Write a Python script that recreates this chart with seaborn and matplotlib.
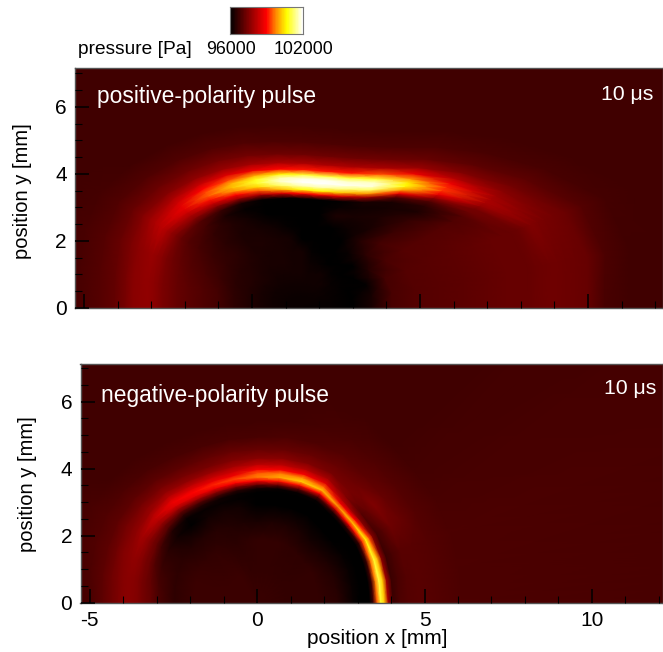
import numpy as np
import matplotlib
matplotlib.use('Agg')
import matplotlib.pyplot as plt
from matplotlib.colors import LinearSegmentedColormap
from matplotlib.ticker import MultipleLocator
import seaborn as sns

# pressure, in kPa, on a grid that follows the pulse front
# columns go from the left of the front (180 deg) to the right of it (0 deg)
angles = [180, 170, 160, 150, 140, 130, 120, 110, 100, 90, 80, 70, 60, 50, 40, 30, 20, 10, 0]

center_top = [1.5, 0.0]
front_top = [4.6, 4.65, 4.75, 4.8, 4.6, 4.37, 4.16, 3.97, 3.83, 3.76, 3.77, 3.9, 4.2, 4.75, 5.45, 6.3, 7.25, 7.5, 7.37]
levels_top = [0, .12, .2, .28, .36, .45, .55, .65, .75, .82, .87, .91, .94, .97, 1, 1.03, 1.06, 1.1, 1.15, 1.22, 1.32, 1.45, 1.65, 7]
pressure_top = [
    [96.1] * 19,
    [96.15, 96.15, 96.15, 96.15, 96.15, 96.15, 96.15, 96.15, 96.15, 96.15, 96.15, 96.15, 96.15, 96.15, 96.15, 96.12, 96.1, 96.08, 96.08],
    [96.2, 96.2, 96.2, 96.2, 96.2, 96.2, 96.2, 96.2, 96.2, 96.2, 96.2, 96.2, 96.2, 96.2, 96.1, 96.05, 96.0, 96.0, 96.0],
    [96.3, 96.3, 96.3, 96.3, 96.3, 96.25, 96.25, 96.25, 96.25, 96.25, 96.2, 96.2, 96.2, 96.05, 96.0, 96.0, 96.05, 96.3, 96.3],
    [96.4, 96.4, 96.4, 96.4, 96.35, 96.3, 96.3, 96.3, 96.25, 96.25, 96.15, 96.1, 96.0, 96.0, 96.0, 96.4, 96.8, 96.85, 96.85],
    [96.55, 96.55, 96.5, 96.45, 96.4, 96.35, 96.3, 96.3, 96.25, 96.25, 96.05, 96.0, 96.0, 96.1, 96.5, 96.85, 97.0, 97.0, 97.0],
    [96.8, 96.8, 96.7, 96.6, 96.5, 96.35, 96.35, 96.3, 96.25, 96.0, 96.0, 96.0, 96.0, 96.4, 96.8, 97.0, 97.05, 97.05, 97.05],
    [96.95, 96.95, 96.85, 96.7, 96.5, 96.35, 96.3, 96.2, 96.05, 96.0, 96.0, 96.0, 96.15, 96.3, 96.7, 97.0, 97.1, 97.1, 97.1],
    [97.1, 97.1, 97.0, 96.85, 96.6, 96.4, 96.2, 96.0, 96.0, 96.0, 96.0, 96.35, 96.3, 96.35, 96.6, 97.0, 97.15, 97.15, 97.15],
    [97.2, 97.2, 97.15, 97.0, 96.8, 96.35, 96.05, 96.0, 96.0, 96.0, 96.0, 96.1, 96.2, 96.25, 96.35, 96.95, 97.2, 97.2, 97.2],
    [97.35, 97.35, 97.3, 97.2, 97.0, 96.7, 96.3, 96.05, 96.0, 96.0, 96.0, 96.05, 96.3, 96.3, 96.5, 97.0, 97.2, 97.2, 97.2],
    [97.45, 97.45, 97.45, 97.5, 97.6, 97.6, 97.9, 98.1, 98.6, 99.0, 98.9, 98.5, 97.9, 97.0, 97.0, 97.3, 97.2, 97.2, 97.2],
    [97.55, 97.55, 97.6, 97.75, 98.0, 98.4, 99.0, 99.5, 100.2, 100.7, 100.6, 100.2, 99.9, 98.8, 97.8, 97.4, 97.25, 97.25, 97.25],
    [97.65, 97.65, 97.7, 98.0, 98.4, 99.1, 99.8, 100.4, 101.2, 101.6, 101.6, 101.3, 101.2, 100.0, 98.8, 97.8, 97.4, 97.28, 97.28],
    [97.7, 97.7, 97.8, 98.2, 98.7, 99.5, 100.2, 100.9, 101.7, 102.0, 102.0, 101.9, 101.8, 100.7, 99.3, 98.0, 97.5, 97.3, 97.3],
    [97.68, 97.7, 97.75, 98.15, 98.65, 99.4, 100.1, 100.8, 101.6, 101.8, 101.9, 101.7, 101.7, 100.5, 99.2, 97.95, 97.45, 97.3, 97.3],
    [97.65, 97.65, 97.7, 98.0, 98.4, 99.0, 99.4, 100.0, 100.6, 100.9, 101.0, 100.9, 100.9, 99.8, 98.8, 97.85, 97.4, 97.28, 97.28],
    [97.6, 97.6, 97.6, 97.8, 98.0, 98.3, 98.6, 98.8, 99.0, 99.1, 99.1, 99.1, 99.4, 98.8, 98.1, 97.6, 97.35, 97.25, 97.25],
    [97.4, 97.4, 97.45, 97.5, 97.55, 97.7, 97.8, 97.9, 98.0, 98.0, 98.0, 98.0, 98.0, 97.8, 97.5, 97.35, 97.25, 97.2, 97.2],
    [97.15, 97.15, 97.2, 97.2, 97.25, 97.3, 97.35, 97.35, 97.3, 97.3, 97.3, 97.3, 97.3, 97.2, 97.1, 97.1, 97.0, 96.9, 96.85],
    [97.0, 97.0, 97.0, 96.95, 96.95, 96.95, 96.95, 96.95, 96.9, 96.9, 96.9, 96.9, 96.9, 96.9, 96.85, 96.85, 96.8, 96.75, 96.75],
    [96.85, 96.85, 96.85, 96.8, 96.75, 96.75, 96.75, 96.75, 96.75, 96.75, 96.75, 96.75, 96.75, 96.75, 96.75, 96.75, 96.75, 96.75, 96.75],
    [96.75] * 19,
    [96.75] * 19,
]

center_bottom = [0.0, 0.0]
front_bottom = [3.8, 3.85, 3.9, 3.95, 3.95, 3.9, 3.8, 3.75, 3.75, 3.75, 3.8, 3.85, 3.88, 3.76, 3.72, 3.75, 3.72, 3.7, 3.7]
levels_bottom = [0, .25, .5, .65, .78, .84, .88, .91, .94, .97, 1, 1.03, 1.06, 1.1, 1.15, 1.22, 1.32, 1.45, 1.65, 7]
pressure_bottom = [
    [96.7] * 19,
    [96.7, 96.7, 96.7, 96.7, 96.7, 96.7, 96.7, 96.65, 96.6, 96.6, 96.6, 96.6, 96.6, 96.6, 96.6, 96.6, 96.6, 96.6, 96.6],
    [96.7, 96.7, 96.7, 96.65, 96.6, 96.6, 96.55, 96.5, 96.55, 96.6, 96.6, 96.6, 96.55, 96.55, 96.55, 96.6, 96.6, 96.6, 96.6],
    [96.55, 96.55, 96.55, 96.5, 96.4, 96.4, 96.45, 96.4, 96.35, 96.3, 96.35, 96.35, 96.3, 96.25, 96.3, 96.35, 96.4, 96.45, 96.5],
    [96.9, 96.85, 96.7, 96.5, 96.2, 96.0, 96.2, 96.25, 96.2, 96.0, 96.0, 96.0, 96.0, 96.0, 96.0, 96.05, 96.1, 96.1, 96.1],
    [97.2, 97.15, 97.0, 96.8, 96.4, 96.1, 96.1, 96.1, 96.05, 96.0, 96.0, 96.0, 96.0, 96.0, 96.0, 96.0, 96.0, 96.0, 96.0],
    [97.3, 97.3, 97.3, 97.2, 97.0, 96.6, 96.4, 96.2, 96.1, 96.0, 96.0, 96.0, 96.0, 96.0, 96.0, 96.0, 96.0, 96.0, 96.0],
    [97.4, 97.4, 97.4, 97.4, 97.3, 97.2, 97.0, 96.8, 96.5, 96.2, 96.1, 96.1, 96.1, 96.0, 96.0, 96.0, 96.0, 96.0, 96.0],
    [97.5, 97.5, 97.55, 97.6, 97.8, 97.9, 97.9, 97.7, 97.6, 97.2, 97.3, 97.2, 97.0, 96.5, 96.6, 96.7, 96.8, 96.8, 96.8],
    [97.55, 97.58, 97.65, 97.8, 98.1, 98.6, 98.7, 98.8, 99.0, 98.9, 99.1, 99.1, 99.0, 98.5, 99.0, 99.3, 99.6, 99.7, 99.5],
    [97.6, 97.6, 97.7, 97.9, 98.3, 98.8, 99.0, 99.2, 99.4, 99.7, 100.0, 100.3, 100.2, 99.9, 100.2, 100.6, 100.9, 101.0, 100.9],
    [97.6, 97.6, 97.65, 97.8, 98.1, 98.5, 98.6, 98.7, 98.8, 99.5, 99.7, 99.8, 99.5, 98.8, 99.0, 99.4, 100.0, 100.2, 100.2],
    [97.55, 97.55, 97.6, 97.65, 97.8, 98.1, 98.2, 98.3, 98.4, 98.9, 98.9, 98.9, 98.6, 98.0, 97.6, 97.5, 97.6, 97.9, 98.0],
    [97.45, 97.45, 97.5, 97.5, 97.6, 97.7, 97.7, 97.8, 97.9, 98.2, 98.2, 98.1, 97.9, 97.5, 97.0, 96.8, 96.7, 96.7, 96.7],
    [97.3, 97.3, 97.3, 97.35, 97.35, 97.4, 97.4, 97.4, 97.5, 97.6, 97.6, 97.5, 97.4, 97.4, 97.2, 97.0, 96.85, 96.85, 96.9],
    [97.1, 97.1, 97.1, 97.1, 97.1, 97.1, 97.1, 97.15, 97.2, 97.2, 97.2, 97.2, 97.2, 97.3, 97.5, 97.3, 97.05, 97.0, 97.0],
    [96.85, 96.9, 96.95, 96.95, 96.9, 96.85, 96.85, 96.85, 96.85, 96.85, 96.9, 96.9, 97.0, 97.1, 97.2, 97.2, 97.05, 97.05, 97.05],
    [96.75, 96.8, 96.85, 96.85, 96.75, 96.75, 96.75, 96.75, 96.75, 96.75, 96.75, 96.8, 96.85, 96.95, 97.0, 97.0, 97.0, 97.0, 97.0],
    [96.75, 96.75, 96.75, 96.75, 96.75, 96.75, 96.75, 96.75, 96.75, 96.75, 96.75, 96.75, 96.75, 96.75, 96.8, 96.85, 96.9, 96.9, 96.9],
    [96.75] * 19,
]

colorbar_levels = np.arange(96.0, 102.01, 0.05)
x_ticks = [-5, 0, 5, 10]
y_ticks = [0, 2, 4, 6]

sns.set_theme(style='ticks')
plt.rcParams['font.family'] = ['Liberation Sans', 'DejaVu Sans']
plt.rcParams['axes.unicode_minus'] = False

cmap = LinearSegmentedColormap.from_list('pressure', [
    (0.0, '#000000'), (0.5, '#ff0000'), (0.62, '#ff8000'), (0.78, '#ffff00'), (1.0, '#ffffff')])

W, H = 663, 652
fig = plt.figure(figsize=(W / 100, H / 100), dpi=100)


def panel(left, top, right, bottom):
    return fig.add_axes([left / W, 1 - bottom / H, (right - left) / W, (bottom - top) / H])


def draw_field(ax, center, front, levels, pressure, xlim, ylim):
    theta = np.radians(angles)
    radius = np.outer(levels, front)
    X = center[0] + radius * np.cos(theta)
    Y = center[1] + radius * np.sin(theta)
    ax.pcolormesh(X, Y, np.array(pressure), cmap=cmap, vmin=96, vmax=102, shading='gouraud')
    ax.set_axisbelow(False)
    ax.set_xlim(xlim)
    ax.set_ylim(ylim)
    ax.set_xticks(x_ticks)
    ax.set_yticks(y_ticks)
    ax.xaxis.set_minor_locator(MultipleLocator(1))
    ax.yaxis.set_minor_locator(MultipleLocator(0.5))
    ax.tick_params(axis='x', which='major', direction='in', length=10, width=1.1, color='black',
                   top=False, labelsize=15, pad=6, labelcolor='black')
    ax.tick_params(axis='y', which='major', direction='in', length=10, width=1.1, color='black',
                   right=False, labelsize=15, pad=6, labelcolor='black')
    ax.tick_params(which='minor', direction='in', length=5, width=0.8, color='black', top=False, right=False)
    for s in ax.spines.values():
        s.set_visible(True)
        s.set_color('#555555')
        s.set_linewidth(1.0)


ax1 = panel(75, 68, 663, 308)
draw_field(ax1, center_top, front_top, levels_top, pressure_top, (-5.27, 12.23), (0, 7.16))
ax1.tick_params(labelbottom=False)
ax1.set_ylabel('position y [mm]', fontsize=14.5, color='black')
ax1.yaxis.set_label_coords((32 - 75) / 588, 0.485)

ax2 = panel(80.5, 364, 663, 602.5)
draw_field(ax2, center_bottom, front_bottom, levels_bottom, pressure_bottom, (-5.27, 12.12), (0, 7.12))
ax2.set_ylabel('position y [mm]', fontsize=14.5, color='black')
ax2.yaxis.set_label_coords((37 - 80.5) / 582.5, 0.495)
ax2.set_xlabel('position x [mm]', fontsize=15, color='black')
ax2.xaxis.set_label_coords((377 - 80.5) / 582.5, (602.5 - 639) / 238.5)
ax2.xaxis.label.set_verticalalignment('center')

# colour bar strip
cax = panel(230, 7, 303, 34)
sns.heatmap([colorbar_levels], cmap=cmap, vmin=96, vmax=102, cbar=False, ax=cax,
            xticklabels=False, yticklabels=False)
for s in cax.spines.values():
    s.set_visible(True)
    s.set_color('#777777')
    s.set_linewidth(0.8)


def label(px, py, txt, size, color='black', ha='left'):
    fig.text(px / W, 1 - py / H, txt, fontsize=size, color=color, ha=ha, va='center')


label(78, 50, 'pressure [Pa]', 13.8)
label(206, 50, '96000', 12.8)
label(274, 50, '102000', 12.8)
label(97, 96, 'positive-polarity pulse', 16.4, color='white')
label(601, 94, '10 μs', 15.3, color='white')
label(101, 395, 'negative-polarity pulse', 16.4, color='white')
label(604, 389, '10 μs', 15.3, color='white')

fig.savefig('out.png', dpi=100)
